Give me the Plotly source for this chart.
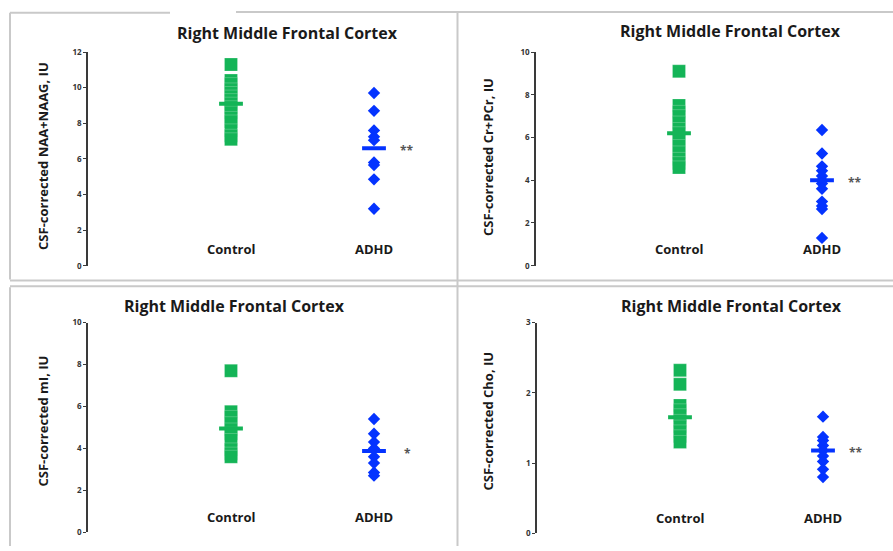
import plotly.graph_objects as go

W, H = 893, 551

# ---------------- data ----------------
groups = ["Control", "ADHD"]
title_text = "Right Middle Frontal Cortex"

naa_control = [11.3, 10.4, 10.2, 9.9, 9.7, 9.5, 9.3, 9.1, 8.9, 8.6, 8.3, 8.1, 7.6, 7.3, 7.1]
naa_adhd = [9.7, 8.7, 7.6, 7.25, 7.05, 5.8, 5.65, 4.85, 3.2]
naa_means = [9.1, 6.6]
naa_sig = "**"

cr_control = [9.1, 7.5, 7.2, 7.0, 6.7, 6.4, 6.2, 5.9, 5.6, 5.3, 5.0, 4.8, 4.6]
cr_adhd = [6.35, 5.25, 4.65, 4.45, 4.2, 4.0, 3.85, 3.6, 3.0, 2.8, 2.65, 1.3]
cr_means = [6.2, 4.0]
cr_sig = "**"

mi_control = [7.7, 5.75, 5.5, 5.2, 4.9, 4.7, 4.4, 3.95, 3.75, 3.6]
mi_adhd = [5.4, 4.7, 4.3, 4.0, 3.6, 3.3, 2.85, 2.7]
mi_means = [4.95, 3.87]
mi_sig = "*"

cho_control = [2.32, 2.12, 1.82, 1.75, 1.68, 1.6, 1.52, 1.45, 1.38, 1.3]
cho_adhd = [1.66, 1.37, 1.32, 1.25, 1.18, 1.1, 1.02, 0.91, 0.8]
cho_means = [1.65, 1.18]
cho_sig = "**"

y_titles = ["CSF-corrected NAA+NAAG, IU", "CSF-corrected Cr+PCr, IU",
            "CSF-corrected mI, IU", "CSF-corrected Cho, IU"]
y_max = [12, 10, 10, 3]
y_dtick = [2, 2, 2, 1]

# ---------------- layout geometry (pixels) ----------------
panels = [
    dict(c=naa_control, a=naa_adhd, m=naa_means, s=naa_sig,
         c_px=231, a_px=374, y0=265, yt=47, tx=287, ty=28, ly=248, ylx=43, yly=153),
    dict(c=cr_control, a=cr_adhd, m=cr_means, s=cr_sig,
         c_px=679, a_px=822, y0=265, yt=47, tx=730, ty=25, ly=248, ylx=488, yly=154),
    dict(c=mi_control, a=mi_adhd, m=mi_means, s=mi_sig,
         c_px=231, a_px=374, y0=537, yt=323, tx=234, ty=306, ly=521, ylx=43, yly=424),
    dict(c=cho_control, a=cho_adhd, m=cho_means, s=cho_sig,
         c_px=680, a_px=823, y0=538, yt=323, tx=731, ty=306, ly=522, ylx=488, yly=423),
]
for i, p in enumerate(panels):
    p["t"] = y_titles[i]
    p["ymax"] = y_max[i]
    p["dt"] = y_dtick[i]

GREEN = "#14b457"
BLUE = "#0433ff"
FONT = "Open Sans"

fig = go.Figure()
layout = dict(width=W, height=H, margin=dict(l=0, r=0, t=0, b=0),
              paper_bgcolor="white", plot_bgcolor="white", showlegend=False)
annotations = []
shapes = []

def px_x(x):
    return x / W

def px_y(y):
    return 1 - y / H

for i, p in enumerate(panels):
    n = i + 1
    xa = "x" if n == 1 else f"x{n}"
    ya = "y" if n == 1 else f"y{n}"
    xk = "xaxis" if n == 1 else f"xaxis{n}"
    yk = "yaxis" if n == 1 else f"yaxis{n}"
    sp = p["a_px"] - p["c_px"]
    left = p["c_px"] - sp
    right = min(p["a_px"] + 0.5 * sp, W - 1)
    r_hi = 1 + (right - p["a_px"]) / sp
    layout[xk] = dict(domain=[px_x(left), px_x(right)], range=[-1, r_hi],
                      visible=False, anchor=ya, fixedrange=True)
    layout[yk] = dict(domain=[px_y(p["y0"]), px_y(p["yt"])], range=[0, p["ymax"]],
                      anchor=xa, showline=True, linecolor="#3a3a3a", linewidth=1.5,
                      ticks="outside", ticklen=3, tickwidth=1.2, tickcolor="#3a3a3a",
                      dtick=p["dt"], tick0=0, showgrid=False, zeroline=False,
                      tickprefix="<b>", ticksuffix="</b>",
                      tickfont=dict(family=FONT, size=8, color="#333333"),
                      fixedrange=True)
    # control squares
    fig.add_trace(go.Scatter(x=[0] * len(p["c"]), y=p["c"], mode="markers",
                             xaxis=xa, yaxis=ya, hoverinfo="skip",
                             marker=dict(symbol="square", size=13, color=GREEN,
                                         line=dict(color="rgba(255,255,255,0.45)", width=0.5))))
    # adhd diamonds
    fig.add_trace(go.Scatter(x=[1] * len(p["a"]), y=p["a"], mode="markers",
                             xaxis=xa, yaxis=ya, hoverinfo="skip",
                             marker=dict(symbol="diamond", size=9.5, color=BLUE,
                                         line=dict(width=0))))
    # mean bars
    fig.add_trace(go.Scatter(x=[0], y=[p["m"][0]], mode="markers", xaxis=xa, yaxis=ya,
                             hoverinfo="skip",
                             marker=dict(symbol="line-ew", size=17,
                                         line=dict(color=GREEN, width=4))))
    fig.add_trace(go.Scatter(x=[1], y=[p["m"][1]], mode="markers", xaxis=xa, yaxis=ya,
                             hoverinfo="skip",
                             marker=dict(symbol="line-ew", size=17,
                                         line=dict(color=BLUE, width=4))))
    # significance
    annotations.append(dict(x=1, y=p["m"][1], xref=xa, yref=ya, text=f"<b>{p['s']}</b>",
                            showarrow=False, xshift=33, yshift=-2,
                            font=dict(family=FONT, size=12, color="#555555")))
    # title
    annotations.append(dict(x=px_x(p["tx"]), y=px_y(p["ty"]), xref="paper", yref="paper",
                            text=f"<b>{title_text}</b>", showarrow=False,
                            xanchor="center", yanchor="middle",
                            font=dict(family=FONT, size=16, color="#1a1a1a")))
    # y title
    annotations.append(dict(x=px_x(p["ylx"]), y=px_y(p["yly"]), xref="paper", yref="paper",
                            text=f"<b>{p['t']}</b>", showarrow=False, textangle=-90,
                            xanchor="center", yanchor="middle",
                            font=dict(family=FONT, size=13, color="#1a1a1a")))
    # group labels
    for gi, g in enumerate(groups):
        annotations.append(dict(x=gi, y=px_y(p["ly"]), xref=xa, yref="paper",
                                text=f"<b>{g}</b>", showarrow=False,
                                xanchor="center", yanchor="middle",
                                font=dict(family=FONT, size=13, color="#1a1a1a")))

# panel frame lines
BORDER = "#c9c9c9"
def hline(x0, x1, y):
    shapes.append(dict(type="line", xref="paper", yref="paper",
                       x0=px_x(x0), x1=px_x(x1), y0=px_y(y), y1=px_y(y),
                       line=dict(color=BORDER, width=2)))
def vline(x, y0, y1):
    shapes.append(dict(type="line", xref="paper", yref="paper",
                       x0=px_x(x), x1=px_x(x), y0=px_y(y0), y1=px_y(y1),
                       line=dict(color=BORDER, width=2)))

hline(10, 170, 7)
hline(236, 893, 6)
vline(10, 7, 279)
vline(10, 287, 551)
vline(457.5, 6, 551)
hline(10, 893, 280)
hline(10, 893, 286)

layout["annotations"] = annotations
layout["shapes"] = shapes
layout["hovermode"] = False
fig.update_layout(**layout)
fig.write_html("out.html", config={"displayModeBar": False},
               post_script="document.body.style.margin='0';document.body.style.overflow='hidden';")
